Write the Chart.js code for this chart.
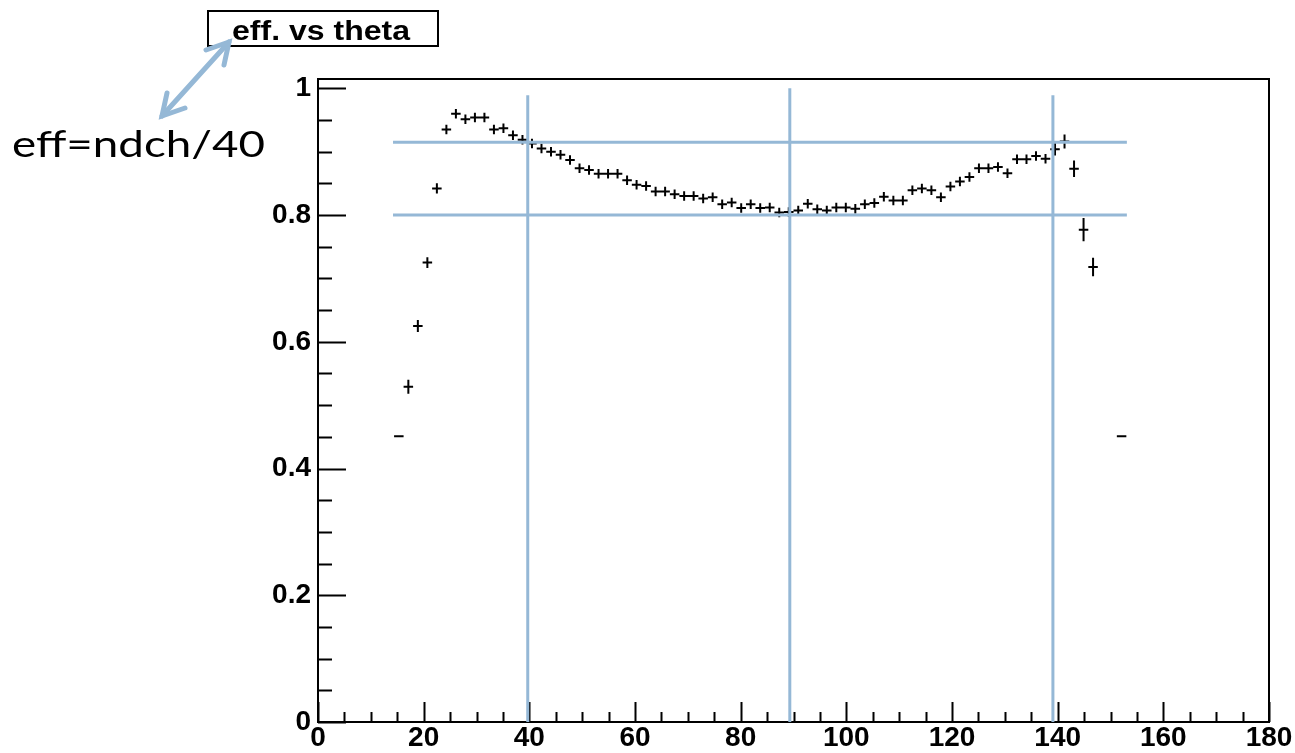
<!DOCTYPE html>
<html>
<head>
<meta charset="utf-8">
<title>eff. vs theta</title>
<script src="https://cdn.jsdelivr.net/npm/chart.js@4.4.1/dist/chart.umd.min.js"></script>
<style>
  html, body { margin: 0; padding: 0; background: #fff; }
  #wrap { position: relative; width: 1295px; height: 753px; overflow: hidden; }
  #chart, #notes { position: absolute; left: 0; top: 0; }
</style>
</head>
<body>
<div id="wrap">
  <canvas id="chart" width="1295" height="753"></canvas>
  <svg id="notes" width="1295" height="753">
    <rect x="208" y="11" width="230" height="35" fill="#fff" stroke="#000" stroke-width="2"/>
    <text x="232" y="40" font-family="Liberation Sans, Arial, sans-serif" font-weight="bold"
          font-size="28" textLength="178" lengthAdjust="spacingAndGlyphs">eff. vs theta</text>
    <g stroke="#95b8d6" stroke-width="5" stroke-linecap="round" fill="none">
      <line x1="162" y1="116" x2="229" y2="42"/>
      <polyline points="206,50 229,42 224,65"/>
      <polyline points="185,108 162,116 167,93"/>
    </g>
    <text x="12" y="157" font-family="Lato, sans-serif" font-size="37"
          textLength="253" lengthAdjust="spacingAndGlyphs">eff=ndch/40</text>
  </svg>
</div>
<script>
// histogram: 100 bins of 1.8 deg over 0..180, only filled bins listed
const binWidth = 1.8;
const theta = [
  15.3, 17.1, 18.9, 20.7, 22.5, 24.3, 26.1, 27.9, 29.7, 31.5,
  33.3, 35.1, 36.9, 38.7, 40.5, 42.3, 44.1, 45.9, 47.7, 49.5,
  51.3, 53.1, 54.9, 56.7, 58.5, 60.3, 62.1, 63.9, 65.7, 67.5,
  69.3, 71.1, 72.9, 74.7, 76.5, 78.3, 80.1, 81.9, 83.7, 85.5,
  87.3, 89.1, 90.9, 92.7, 94.5, 96.3, 98.1, 99.9, 101.7, 103.5,
  105.3, 107.1, 108.9, 110.7, 112.5, 114.3, 116.1, 117.9, 119.7, 121.5,
  123.3, 125.1, 126.9, 128.7, 130.5, 132.3, 134.1, 135.9, 137.7, 139.5,
  141.3, 143.1, 144.9, 146.7, 152.1
];
const eff = [
  0.451, 0.529, 0.625, 0.725, 0.842, 0.935, 0.960, 0.951, 0.954, 0.954,
  0.935, 0.937, 0.926, 0.919, 0.913, 0.905, 0.900, 0.895, 0.887, 0.874,
  0.871, 0.865, 0.865, 0.865, 0.855, 0.848, 0.846, 0.837, 0.837, 0.833,
  0.830, 0.830, 0.826, 0.828, 0.817, 0.820, 0.811, 0.817, 0.811, 0.812,
  0.804, 0.805, 0.807, 0.818, 0.809, 0.807, 0.812, 0.812, 0.810, 0.817,
  0.819, 0.829, 0.823, 0.823, 0.839, 0.842, 0.839, 0.828, 0.845, 0.853,
  0.860, 0.874, 0.874, 0.876, 0.866, 0.888, 0.888, 0.893, 0.889, 0.904,
  0.916, 0.873, 0.777, 0.718, 0.451
];
const effErr = [
  0, 0.011, 0.0095, 0.0085, 0.008, 0.0075, 0.0075, 0.0075, 0.0075, 0.0075,
  0.0075, 0.0075, 0.0075, 0.0075, 0.0075, 0.0075, 0.0075, 0.0075, 0.0075, 0.0075,
  0.0075, 0.0075, 0.0075, 0.0075, 0.0075, 0.0075, 0.0075, 0.0075, 0.0075, 0.0075,
  0.0075, 0.0075, 0.0075, 0.0075, 0.0075, 0.0075, 0.0075, 0.0075, 0.0075, 0.0075,
  0.0075, 0.0075, 0.0075, 0.0075, 0.0075, 0.0075, 0.0075, 0.0075, 0.0075, 0.0075,
  0.0075, 0.0075, 0.0075, 0.0075, 0.0075, 0.0075, 0.0075, 0.0075, 0.0075, 0.0075,
  0.0075, 0.0075, 0.0075, 0.0075, 0.0075, 0.0075, 0.0075, 0.0075, 0.0075, 0.01,
  0.011, 0.013, 0.0185, 0.0145, 0
];

const xTicks = [0, 20, 40, 60, 80, 100, 120, 140, 160, 180];
const yTicks = [0, 0.2, 0.4, 0.6, 0.8, 1];

// hand-drawn guide lines on the slide
const hLineY = [0.915, 0.8];
const hLineSpan = [14.2, 153.1];
const vLineX = [39.7, 89.3, 139.1];
const vLineTop = [0.989, 1.0, 0.989];

const guideColor = "#95b8d6";

function guideDatasets() {
  const sets = [];
  hLineY.forEach((v) => {
    sets.push({
      type: "line",
      data: [{ x: hLineSpan[0], y: v }, { x: hLineSpan[1], y: v }],
      borderColor: guideColor,
      borderWidth: 3,
      pointRadius: 0,
    });
  });
  vLineX.forEach((v, i) => {
    sets.push({
      type: "line",
      data: [{ x: v, y: 0 }, { x: v, y: vLineTop[i] }],
      borderColor: guideColor,
      borderWidth: 3,
      pointRadius: 0,
    });
  });
  return sets;
}

// ROOT style frame, inward ticks and error crosses
const rootFrame = {
  id: "rootFrame",
  beforeDatasetsDraw(chart) {
    const { ctx, chartArea: a, scales } = chart;
    const x = scales.x;
    const y = scales.y;
    ctx.save();
    ctx.strokeStyle = "#000";
    ctx.lineWidth = 2;
    ctx.strokeRect(a.left, a.top, a.right - a.left, a.bottom - a.top);

    ctx.beginPath();
    for (let v = 0; v <= 180; v += 5) {
      const px = Math.round(x.getPixelForValue(v)) + 0.5;
      const len = v % 20 === 0 ? 20 : 10;
      ctx.moveTo(px, a.bottom);
      ctx.lineTo(px, a.bottom - len);
    }
    for (let k = 0; k <= 20; k++) {
      const py = Math.round(y.getPixelForValue(k * 0.05)) + 0.5;
      const len = k % 4 === 0 ? 28 : 14;
      ctx.moveTo(a.left, py);
      ctx.lineTo(a.left + len, py);
    }
    ctx.stroke();

    ctx.beginPath();
    ctx.lineWidth = 2;
    theta.forEach((t, i) => {
      const py = y.getPixelForValue(eff[i]);
      ctx.moveTo(x.getPixelForValue(t - binWidth / 2), py);
      ctx.lineTo(x.getPixelForValue(t + binWidth / 2), py);
      if (effErr[i] > 0) {
        const px = x.getPixelForValue(t);
        ctx.moveTo(px, y.getPixelForValue(eff[i] + effErr[i]));
        ctx.lineTo(px, y.getPixelForValue(eff[i] - effErr[i]));
      }
    });
    ctx.stroke();
    ctx.restore();
  },
};

const tickFont = { family: "'Liberation Sans', Arial, sans-serif", weight: "bold", size: 28 };

new Chart(document.getElementById("chart"), {
  type: "scatter",
  data: {
    datasets: [
      {
        label: "eff. vs theta",
        data: theta.map((t, i) => ({ x: t, y: eff[i] })),
        pointRadius: 0,
        showLine: false,
      },
      ...guideDatasets(),
    ],
  },
  plugins: [rootFrame],
  options: {
    responsive: false,
    animation: false,
    layout: { padding: { top: 79, right: 26, left: 0, bottom: 0 } },
    plugins: {
      legend: { display: false },
      tooltip: { enabled: false },
    },
    scales: {
      x: {
        type: "linear",
        min: 0,
        max: 180,
        grid: { display: false, drawTicks: false },
        border: { display: false },
        afterBuildTicks(scale) {
          scale.ticks = xTicks.map((v) => ({ value: v }));
        },
        afterFit(scale) {
          scale.height = 31;
        },
        ticks: {
          autoSkip: false,
          maxRotation: 0,
          padding: -1,
          color: "#000",
          font: tickFont,
        },
      },
      y: {
        type: "linear",
        min: 0,
        max: 1.0147,
        grid: { display: false, drawTicks: false },
        border: { display: false },
        afterBuildTicks(scale) {
          scale.ticks = yTicks.map((v) => ({ value: v }));
        },
        afterFit(scale) {
          scale.width = 318;
        },
        ticks: {
          padding: 7,
          color: "#000",
          font: tickFont,
          callback: (v) => String(Number(v.toFixed(1))),
        },
      },
    },
  },
});
</script>
</body>
</html>
